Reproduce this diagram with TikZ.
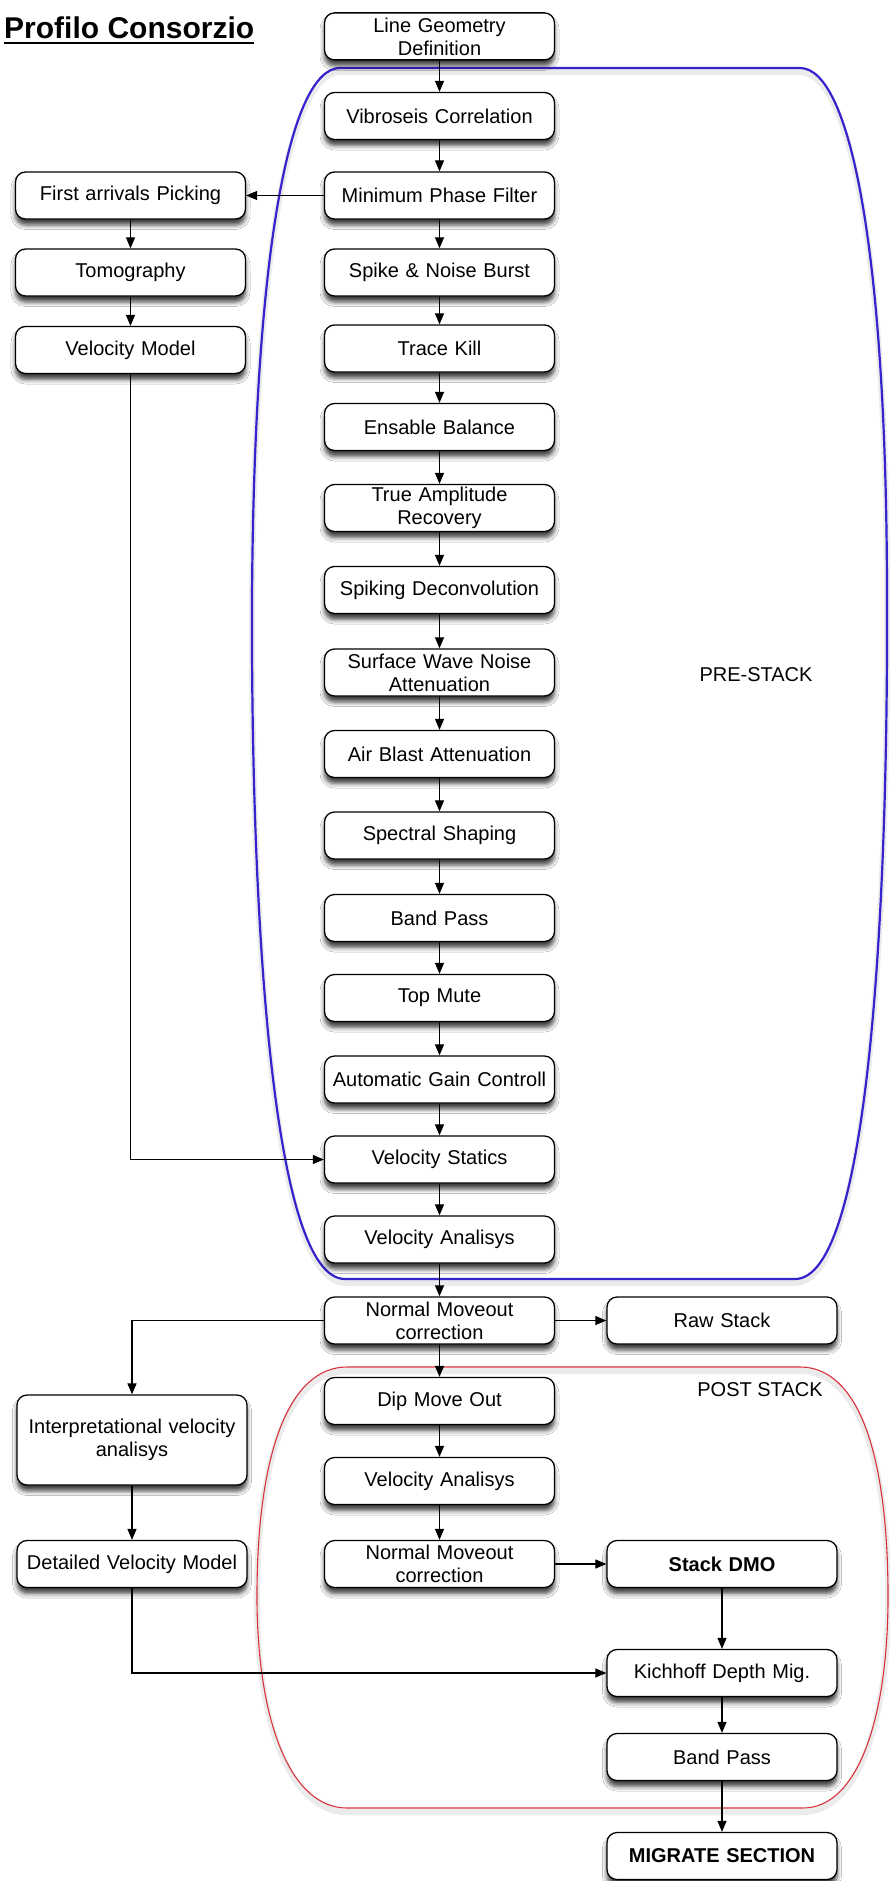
\documentclass[tikz,border=0pt]{standalone}
\usepackage{fontspec}
\setmainfont{Liberation Sans}
\usetikzlibrary{arrows.meta,shadows.blur}

\definecolor{preloop}{RGB}{55,35,205}
\definecolor{postloop}{RGB}{215,50,60}

\tikzset{
  box/.style={draw=black, line width=1.3pt, rounded corners=10pt, fill=white,
    minimum width=230pt, minimum height=47pt, text width=226pt, align=center,
    inner sep=0pt, font=\fontsize{20}{23}\selectfont,
    blur shadow={shadow xshift=0pt, shadow yshift=-6pt, shadow blur radius=4.5pt, shadow opacity=75}},
  tallbox/.style={box, minimum height=90pt},
  flow/.style={line width=1.2pt, -{Triangle[length=11pt,width=9pt]}},
  loopshade/.style={line width=6pt, black, opacity=0.08},
  label/.style={font=\fontsize{20}{23}\selectfont, inner sep=0pt},
}

\begin{document}
\begin{tikzpicture}[x=1pt, y=-1pt]
\useasboundingbox (0,0) rectangle (890,1881);
\fill[white] (0,0) rectangle (890,1881);

% process groups
\def\prepath{(340,68) -- (800,68) .. controls (850,68) and (887,250) .. (887,600)
  .. controls (888,900) and (870,1279) .. (795,1279) -- (345,1279)
  .. controls (270,1279) and (251,900) .. (252,600)
  .. controls (254,250) and (290,68) .. (340,68) -- cycle}
\def\postpath{(347,1367) -- (800,1367) .. controls (857,1367) and (887,1450) .. (888,1590)
  .. controls (889,1720) and (857,1808) .. (803,1808) -- (347,1808)
  .. controls (290,1808) and (256,1720) .. (257,1590)
  .. controls (258,1450) and (290,1367) .. (347,1367) -- cycle}
\begin{scope}[yshift=-4pt]
  \draw[loopshade] \prepath;
  \draw[loopshade] \postpath;
\end{scope}
\draw[preloop, line width=2.2pt] \prepath;
\draw[postloop, line width=1.1pt] \postpath;

% title
\node[anchor=base west, inner sep=0pt, font=\fontsize{30}{30}\selectfont\bfseries] (title) at (4,39) {Profilo Consorzio};
\draw[line width=2pt] ([yshift=-4pt]title.base west) -- ([yshift=-4pt]title.base east);

% main sequence
\node[box] (lgd)  at (439.5,36.4)  {Line Geometry\\Definition};
\node[box] (vib)  at (439.5,116)   {Vibroseis Correlation};
\node[box] (mph)  at (439.5,195.5) {Minimum Phase Filter};
\node[box] (spk)  at (439.5,272.5) {Spike \& Noise Burst};
\node[box] (tkl)  at (439.5,348.5) {Trace Kill};
\node[box] (ens)  at (439.5,427)   {Ensable Balance};
\node[box] (tar)  at (439.5,508)   {True Amplitude\\Recovery};
\node[box] (sdc)  at (439.5,590)   {Spiking Deconvolution};
\node[box] (swn)  at (439.5,672.5) {Surface Wave Noise\\Attenuation};
\node[box] (aba)  at (439.5,754)   {Air Blast Attenuation};
\node[box] (ssh)  at (439.5,835.5) {Spectral Shaping};
\node[box] (bpa)  at (439.5,918)   {Band Pass};
\node[box] (tmu)  at (439.5,998)   {Top Mute};
\node[box] (agc)  at (439.5,1079.5){Automatic Gain Controll};
\node[box] (vst)  at (439.5,1159.5){Velocity Statics};
\node[box] (vaa)  at (439.5,1239.5){Velocity Analisys};
\node[box] (nma)  at (439.5,1320.5){Normal Moveout\\correction};
\node[box] (dmo)  at (439.5,1401)  {Dip Move Out};
\node[box] (vab)  at (439.5,1481)  {Velocity Analisys};
\node[box] (nmb)  at (439.5,1564)  {Normal Moveout\\correction};

% right column
\node[box] (raw)  at (722,1320.5)  {Raw Stack};
\node[box] (sdm)  at (722,1564)    {\bfseries Stack DMO};
\node[box] (kdm)  at (722,1673)    {Kichhoff Depth Mig.};
\node[box] (bpb)  at (722,1757)    {Band Pass};
\node[box] (mig)  at (722,1856)    {\bfseries MIGRATE SECTION};

% left column
\node[box] (fap)  at (130.5,195.5) {First arrivals Picking};
\node[box] (tom)  at (130.5,272.5) {Tomography};
\node[box] (vmo)  at (130.5,350)   {Velocity Model};
\node[tallbox] (iva) at (132,1440) {Interpretational velocity\\analisys};
\node[box] (dvm)  at (132,1564)    {Detailed Velocity Model};

% group labels
\node[label] (pre)  at (756,675)  {PRE-STACK};
\node[label] (post) at (760,1390) {POST STACK};

% connectors
\foreach \a/\b in {lgd/vib, vib/mph, mph/spk, spk/tkl, tkl/ens, ens/tar, tar/sdc,
  sdc/swn, swn/aba, aba/ssh, ssh/bpa, bpa/tmu, tmu/agc, agc/vst, vst/vaa, vaa/nma,
  nma/dmo, dmo/vab, vab/nmb, sdm/kdm, kdm/bpb, bpb/mig, fap/tom, tom/vmo, iva/dvm}
  \draw[flow] (\a.south) -- (\b.north);
\draw[flow] (mph.west) -- (fap.east);
\draw[flow] (nma.east) -- (raw.west);
\draw[flow] (nmb.east) -- (sdm.west);
\draw[flow] (vmo.south) |- (vst.west);
\draw[flow] (nma.west) -| (iva.north);
\draw[flow] (dvm.south) |- (kdm.west);
\end{tikzpicture}
\end{document}
